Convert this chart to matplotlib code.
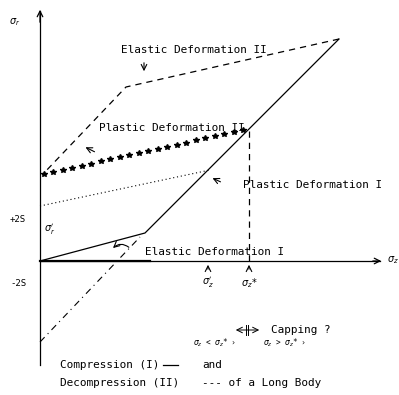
import matplotlib
matplotlib.use("Agg")
import matplotlib.pyplot as plt
import numpy as np

# diagram units: origin at the axis crossing, x = sigma_z, y = sigma_r
comp_x = [0, 105, 299]          # compression (I), solid
comp_y = [0, 28, 222]
decomp_x = [299, 86, 4]         # decompression (II), dashed
decomp_y = [222, 174, 88]
plast2_x = [4, 203]             # plastic deformation II, stars
plast2_y = [87, 131]
dotted_x = [0, 170]
dotted_y = [55, 91]
extend_x = [0, 100]             # dash-dot extension of plastic line I
extend_y = [-81, 24]
sz_prime = 168                  # sigma_z'
sz_star = 209                   # sigma_z*
sz_star_y = 131
n_stars = 22

FONT = "DejaVu Sans Mono"
FS = 7.9

fig = plt.figure(figsize=(3.99, 3.95), dpi=100)
ax = fig.add_axes([0, 0, 1, 1])
ax.set_xlim(-40, 359)
ax.set_ylim(-134, 261)
ax.axis("off")

k = dict(color="black", lw=0.9)

# axes with arrows
ax.plot([0, 0], [-104, 250], **k)
ax.annotate("", xy=(0, 254), xytext=(0, 236),
            arrowprops=dict(arrowstyle="->", lw=0.9, color="black"))
ax.plot([0, 340], [0, 0], **k)
ax.plot([0, 110], [0, 0], color="black", lw=1.6)
ax.annotate("", xy=(344, 0), xytext=(330, 0),
            arrowprops=dict(arrowstyle="->", lw=0.9, color="black"))

# curves
ax.plot(comp_x, comp_y, **k)
ax.plot(decomp_x, decomp_y, color="black", lw=0.9, ls=(0, (5, 4)))
sx = np.linspace(plast2_x[0], plast2_x[1], n_stars)
sy = np.interp(sx, plast2_x, plast2_y)
ax.plot(sx, sy, ls="none", marker="*", ms=4, color="black")
ax.plot(dotted_x, dotted_y, color="black", lw=0.8, ls=(0, (1, 2.5)))
ax.plot(extend_x, extend_y, color="black", lw=0.8, ls=(0, (6, 4, 1, 4)))
ax.plot([sz_star, sz_star], [0, sz_star_y], color="black", lw=0.9,
        ls=(0, (5, 4)))

# text labels
tk = dict(family=FONT, fontsize=FS, va="center", ha="left")
ax.text(-25, 239, r"$\sigma_r$", fontsize=7, ha="center", va="center")
ax.text(353, 1, r"$\sigma_z$", fontsize=7, ha="center", va="center")
ax.text(-22, 42, "+2S", family=FONT, fontsize=6.5, ha="center", va="center")
ax.text(-22, -22, "-2S", family=FONT, fontsize=6.5, ha="center", va="center")
ax.text(10, 31, r"$\sigma_r'$", fontsize=7, ha="center", va="center")

ax.text(81, 211, "Elastic Deformation II", **tk)
ax.annotate("", xy=(104, 187), xytext=(104, 201),
            arrowprops=dict(arrowstyle="->", lw=0.8, color="black"))
ax.text(59, 133, "Plastic Deformation II", **tk)
ax.annotate("", xy=(43, 115), xytext=(57, 108),
            arrowprops=dict(arrowstyle="->", lw=0.8, color="black"))
ax.text(203, 76, "Plastic Deformation I", **tk)
ax.annotate("", xy=(170, 84), xytext=(183, 78),
            arrowprops=dict(arrowstyle="->", lw=0.8, color="black"))
ax.text(105, 9, "Elastic Deformation I", **tk)
ax.annotate("", xy=(71, 11), xytext=(91, 12),
            arrowprops=dict(arrowstyle="->", lw=0.8, color="black",
                            connectionstyle="arc3,rad=0.5"))

# sigma_z markers
for xv, lab in [(sz_prime, r"$\sigma_z'$"), (sz_star, r"$\sigma_z$*")]:
    ax.annotate("", xy=(xv, -1), xytext=(xv, -11),
                arrowprops=dict(arrowstyle="->", lw=0.8, color="black"))
    ax.text(xv, -22, lab, fontsize=7, ha="center", va="center")

# capping note
ax.annotate("", xy=(193, -69), xytext=(222, -69),
            arrowprops=dict(arrowstyle="<->", lw=0.7, color="black"))
ax.plot([206, 206], [-64, -74], color="black", lw=0.7)
ax.plot([208, 208], [-64, -74], color="black", lw=0.7)
ax.text(231, -69, "Capping ?", **tk)
ax.text(153, -82, r"$\sigma_z$ < $\sigma_z$* ›", family=FONT, fontsize=5.5,
        va="center", ha="left")
ax.text(223, -82, r"$\sigma_z$ > $\sigma_z$* ›", family=FONT, fontsize=5.5,
        va="center", ha="left")

# legend text
ax.text(20, -104, "Compression (I)", **tk)
ax.plot([123, 138], [-104, -104], **k)
ax.text(162, -104, "and", **tk)
ax.text(20, -122, "Decompression (II)", **tk)
ax.text(162, -122, "--- of a Long Body", **tk)

fig.savefig("out.png", dpi=100)
